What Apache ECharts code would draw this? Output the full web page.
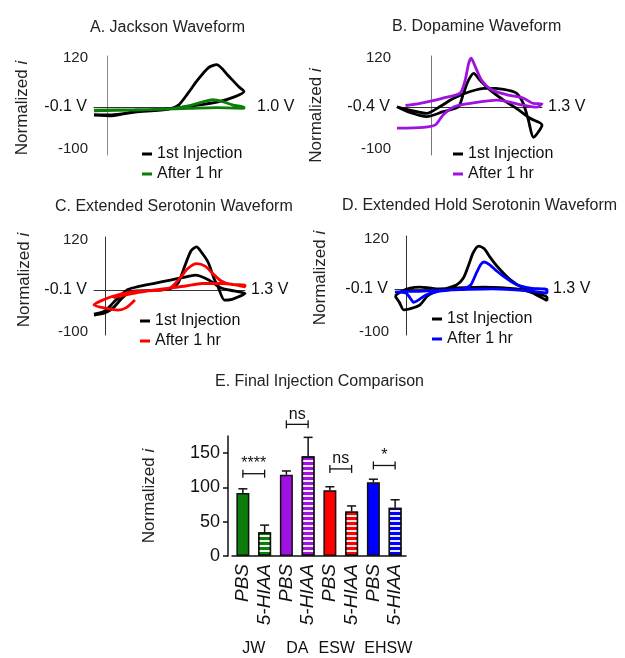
<!DOCTYPE html>
<html>
<head>
<meta charset="utf-8">
<script src="https://cdn.jsdelivr.net/npm/echarts@6/dist/echarts.min.js"></script>
<style>
html, body { margin: 0; padding: 0; background: #fff; }
#main { width: 625px; height: 658px; }
</style>
</head>
<body>
<div id="main"></div>
<script>
// cyclic voltammograms: [potential (V), normalized current]
var jwFirst = [[-0.1,-18],[0.03,-20],[0.2,-10],[0.45,-3],[0.62,4],[0.81,14],[0.93,26],[1.0,39],[0.96,51],[0.88,79],[0.8,104],[0.74,97],[0.66,67],[0.59,35],[0.52,6],[0.45,-4],[0.2,-11],[0.03,-18],[-0.1,-17]];
var jwAfter = [[-0.1,-6],[0.2,-5],[0.45,-3],[0.6,5],[0.7,14],[0.77,19],[0.85,14],[0.92,6],[1.0,1],[1.0,-2],[0.8,0],[0.6,-2],[0.4,-4],[0.2,-6],[-0.1,-8]];
var daFirst = [[-0.4,2],[-0.25,-12],[-0.05,-22],[0.14,-10],[0.32,2],[0.38,35],[0.44,67],[0.5,83],[0.57,67],[0.69,43],[0.85,18],[1.0,-2],[1.16,-26],[1.3,-42],[1.2,-72],[1.14,-30],[1.08,10],[1.0,35],[0.85,44],[0.66,47],[0.46,39],[0.27,23],[0.1,2],[-0.05,-14],[-0.25,-6],[-0.4,2]];
var daAfter = [[-0.3,5],[-0.13,10],[0.14,23],[0.34,35],[0.4,67],[0.44,107],[0.47,120],[0.51,103],[0.59,67],[0.71,43],[0.89,31],[1.08,23],[1.2,10],[1.3,9],[1.24,1],[1.08,6],[0.77,18],[0.46,10],[0.27,2],[0.14,-18],[0.05,-42],[-0.09,-48],[-0.4,-50]];
var eswFirst = [[-0.1,-60],[0.0,-55],[0.08,-42],[0.15,-22],[0.22,-6],[0.3,-2],[0.45,-1],[0.55,1],[0.62,5],[0.68,17],[0.74,57],[0.8,95],[0.85,104],[0.9,90],[0.96,66],[1.01,30],[1.05,8],[1.11,-24],[1.18,-22],[1.24,-16],[1.3,-8],[1.2,-2],[1.08,5],[0.96,25],[0.84,36],[0.72,30],[0.62,25],[0.45,16],[0.3,8],[0.22,2],[0.15,-12],[0.08,-30],[0.0,-50],[-0.1,-58]];
var eswAfter = [[0.28,-24],[0.2,-42],[0.12,-48],[0.02,-44],[-0.1,-36],[0.06,-16],[0.25,-4],[0.52,0],[0.62,8],[0.7,30],[0.77,52],[0.85,64],[0.93,58],[1.0,40],[1.08,22],[1.17,14],[1.3,12],[1.3,8],[1.1,16],[0.9,16],[0.75,10],[0.6,5],[0.45,0],[0.3,-6],[0.15,-14],[0.08,-18]];
var ehswFirst = [[-0.1,-15],[-0.06,-30],[-0.02,-48],[0.03,-46],[0.13,-36],[0.2,-15],[0.3,-2],[0.4,5],[0.47,12],[0.53,28],[0.58,60],[0.62,88],[0.67,104],[0.72,98],[0.78,76],[0.84,56],[0.96,24],[1.08,4],[1.2,-8],[1.3,-18],[1.3,-26],[1.15,-6],[1.02,2],[0.72,6],[0.45,4],[0.3,2],[0.22,4],[0.13,6],[0.04,4],[-0.04,-4],[-0.1,-15]];
var ehswAfter = [[-0.1,-6],[0.0,-8],[0.04,-20],[0.07,-30],[0.12,-24],[0.19,-12],[0.3,-4],[0.45,0],[0.55,4],[0.6,12],[0.65,40],[0.69,60],[0.72,66],[0.77,60],[0.84,44],[0.9,32],[1.02,12],[1.15,4],[1.3,0],[1.3,-8],[1.1,-2],[0.8,2],[0.5,0],[0.25,-2],[0.1,-4],[0.0,-4],[-0.1,-6]];

var cvTitles = ['A. Jackson Waveform', 'B. Dopamine Waveform', 'C. Extended Serotonin Waveform', 'D. Extended Hold Serotonin Waveform'];
var cvXMin = [-0.1, -0.4, -0.1, -0.1];
var cvXMax = [1.0, 1.3, 1.3, 1.3];
var cvLeftLabel = ['-0.1 V', '-0.4 V', '-0.1 V', '-0.1 V'];
var cvRightLabel = ['1.0 V', '1.3 V', '1.3 V', '1.3 V'];
var cvYTicks = [-100, 120];
var cvFirst = [jwFirst, daFirst, eswFirst, ehswFirst];
var cvAfter = [jwAfter, daAfter, eswAfter, ehswAfter];
var legendNames = ['1st Injection', 'After 1 hr'];

// final injection comparison
var barCategories = ['PBS', '5-HIAA', 'PBS', '5-HIAA', 'PBS', '5-HIAA', 'PBS', '5-HIAA'];
var groupNames = ['JW', 'DA', 'ESW', 'EHSW'];
var barMeans = [92, 34.5, 118.5, 145.5, 96, 65, 107.5, 70.5];
var barSem = [6, 10.5, 5.5, 27.5, 5, 8, 4.5, 11.5];
var sigFrom = [0, 2, 4, 6];
var sigTo = [1, 3, 5, 7];
var sigLevel = [120, 192, 127, 132];
var sigText = ['****', 'ns', 'ns', '*'];

var groupColors = ['#0b7d0b', '#a012e0', '#ff0000', '#0000ff'];
var font = 'Arial, "Liberation Sans", Helvetica, sans-serif';

var cvGrids = [
    {left: 94, top: 56, width: 150, height: 99},
    {left: 397, top: 56, width: 145, height: 99},
    {left: 94, top: 237, width: 151, height: 98},
    {left: 395, top: 236, width: 152, height: 99}
];
var cvYRange = [[-115, 125], [-115, 125], [-108, 128], [-108, 128]];
var cvAxisColor = ['#888', '#777', '#333', '#333'];
var cvNameGap = [63, 72, 61, 66];
var cvNamePad = [[0, 5, 0, 0], [0, 20, 0, 0], [0, 0, 0, 12], [0, 0, 0, 15]];
var titlePos = [[90, 20], [392, 19], [55, 199], [342, 198], [215, 374]];
var legendPos = [[142, 146], [453, 146], [140, 313], [432, 311]];

var myChart = echarts.init(document.getElementById('main'));

var grids = [], xAxes = [], yAxes = [], series = [], titles = [], legends = [];
var panelKeys = ['A', 'B', 'C', 'D'];

cvGrids.forEach(function (g, i) {
    grids.push({left: g.left, top: g.top, width: g.width, height: g.height, outerBoundsMode: 'none'});
    xAxes.push({
        gridIndex: i, type: 'value', min: cvXMin[i], max: cvXMax[i],
        axisLine: {onZero: true, lineStyle: {color: '#333', width: 1}},
        axisTick: {show: false}, axisLabel: {show: false}, splitLine: {show: false}
    });
    yAxes.push({
        gridIndex: i, type: 'value', min: cvYRange[i][0], max: cvYRange[i][1],
        axisLine: {show: true, onZero: true, lineStyle: {color: cvAxisColor[i], width: 1}},
        axisTick: {show: false}, splitLine: {show: false},
        axisLabel: {customValues: cvYTicks, fontSize: 15, color: '#222', margin: 6},
        name: '{n|Normalized }{i|i}', nameLocation: 'middle', nameGap: cvNameGap[i],
        nameTextStyle: {
            color: '#222', padding: cvNamePad[i],
            rich: {n: {fontSize: 17, color: '#222'}, i: {fontSize: 17, color: '#222', fontStyle: 'italic'}}
        }
    });
    series.push({
        name: panelKeys[i] + '1', type: 'line', xAxisIndex: i, yAxisIndex: i,
        data: cvFirst[i], showSymbol: false, smooth: 0.25, color: '#000',
        lineStyle: {width: 2.8, color: '#000'}
    });
    series.push({
        name: panelKeys[i] + '2', type: 'line', xAxisIndex: i, yAxisIndex: i,
        data: cvAfter[i], showSymbol: false, smooth: 0.25, color: groupColors[i],
        lineStyle: {width: 2.8, color: groupColors[i]}
    });
    titles.push({text: cvTitles[i], left: titlePos[i][0], top: titlePos[i][1]});
    legends.push({
        orient: 'vertical', left: legendPos[i][0], top: legendPos[i][1], padding: 0,
        data: [panelKeys[i] + '1', panelKeys[i] + '2'],
        icon: 'rect', itemWidth: 10, itemHeight: 3, itemGap: 4,
        textStyle: {fontSize: 16, color: '#111'},
        formatter: function (name) { return legendNames[+name.slice(1) - 1]; }
    });
});

// bar panel
titles.push({text: 'E. Final Injection Comparison', left: titlePos[4][0], top: titlePos[4][1]});
grids.push({left: 232, top: 436, width: 174, height: 120, outerBoundsMode: 'none'});
xAxes.push({
    gridIndex: 4, type: 'category', data: barCategories,
    axisLine: {lineStyle: {color: '#111', width: 1.5}},
    axisTick: {alignWithLabel: true, length: 4, lineStyle: {color: '#111', width: 1.5}},
    axisLabel: {rotate: 90, interval: 0, fontSize: 19, fontStyle: 'italic', color: '#111', margin: 8}
});
xAxes.push({
    gridIndex: 4, type: 'category', data: groupNames, position: 'bottom', offset: 77,
    axisLine: {show: false}, axisTick: {show: false},
    axisLabel: {
        interval: 0, fontSize: 16, color: '#111', margin: 8,
        formatter: function (v) { return v === 'ESW' ? '{l|' + v + '}' : v === 'EHSW' ? '{r|' + v + '}' : v; },
        rich: {l: {fontSize: 16, color: '#111', padding: [0, 8, 0, 0]}, r: {fontSize: 16, color: '#111', padding: [0, 0, 0, 8]}}
    }
});
yAxes.push({
    gridIndex: 4, type: 'value', min: 0, max: 175, offset: 4,
    axisLine: {show: true, lineStyle: {color: '#111', width: 1.5}},
    axisTick: {show: true, length: 5, customValues: [0, 50, 100, 150], lineStyle: {color: '#111', width: 1.5}},
    axisLabel: {customValues: [0, 50, 100, 150], fontSize: 18, color: '#111', margin: 8},
    splitLine: {show: false},
    name: '{n|Normalized }{i|i}', nameLocation: 'middle', nameGap: 70,
    nameTextStyle: {rich: {n: {fontSize: 17, color: '#222'}, i: {fontSize: 17, color: '#222', fontStyle: 'italic'}}}
});

var stripe = {symbol: 'rect', symbolSize: 1, dashArrayX: [1, 0], dashArrayY: [2, 3], rotation: 0, color: 'rgba(255,255,255,0.92)'};
series.push({
    type: 'bar', xAxisIndex: 4, yAxisIndex: 4, barWidth: 13,
    data: barMeans.map(function (v, i) {
        var st = {color: groupColors[Math.floor(i / 2)], borderColor: '#111', borderWidth: 1.5};
        if (i % 2 === 1) st.decal = stripe;
        return {value: v, itemStyle: st};
    })
});
series.push({
    type: 'custom', xAxisIndex: 4, yAxisIndex: 4, z: 5,
    data: barMeans.map(function (v, i) { return [i, v, barSem[i]]; }),
    renderItem: function (params, api) {
        var p0 = api.coord([api.value(0), api.value(1)]);
        var p1 = api.coord([api.value(0), api.value(1) + api.value(2)]);
        var st = {stroke: '#111', lineWidth: 1.5};
        return {type: 'group', children: [
            {type: 'line', shape: {x1: p0[0], y1: p0[1], x2: p1[0], y2: p1[1]}, style: st},
            {type: 'line', shape: {x1: p1[0] - 4.5, y1: p1[1], x2: p1[0] + 4.5, y2: p1[1]}, style: st}
        ]};
    }
});
series.push({
    type: 'custom', xAxisIndex: 4, yAxisIndex: 4, z: 5, clip: false,
    data: sigFrom.map(function (f, i) { return [f, sigTo[i], sigLevel[i], i]; }),
    renderItem: function (params, api) {
        var a = api.coord([api.value(0), api.value(2)]);
        var b = api.coord([api.value(1), api.value(2)]);
        var st = {stroke: '#111', lineWidth: 1.3};
        return {type: 'group', children: [
            {type: 'line', shape: {x1: a[0], y1: a[1], x2: b[0], y2: b[1]}, style: st},
            {type: 'line', shape: {x1: a[0], y1: a[1] - 4, x2: a[0], y2: a[1] + 4}, style: st},
            {type: 'line', shape: {x1: b[0], y1: b[1] - 4, x2: b[0], y2: b[1] + 4}, style: st},
            {type: 'text', x: (a[0] + b[0]) / 2, y: a[1] - 2,
             style: {text: sigText[api.value(3)], align: 'center', verticalAlign: 'bottom', fontSize: 16, fontFamily: font, fill: '#111'}}
        ]};
    }
});

myChart.setOption({
    animation: false,
    textStyle: {fontFamily: font},
    title: titles.map(function (t) {
        t.padding = 0;
        t.textStyle = {fontSize: 16, fontWeight: 'normal', color: '#222'};
        return t;
    }),
    legend: legends,
    grid: grids,
    xAxis: xAxes,
    yAxis: yAxes,
    series: series
});

// potential range labels at the ends of each zero line
var labels = [];
for (var i = 0; i < 4; i++) {
    var pL = myChart.convertToPixel({gridIndex: i}, [cvXMin[i], 0]);
    var pR = myChart.convertToPixel({gridIndex: i}, [cvXMax[i], 0]);
    labels.push({type: 'text', x: pL[0] - 7, y: pL[1] - 1,
        style: {text: cvLeftLabel[i], align: 'right', verticalAlign: 'middle', fontSize: 16, fontFamily: font, fill: '#111'}});
    labels.push({type: 'text', x: pR[0] + (i === 0 ? 13 : 6), y: pR[1] - 1,
        style: {text: cvRightLabel[i], align: 'left', verticalAlign: 'middle', fontSize: 16, fontFamily: font, fill: '#111'}});
}
myChart.setOption({graphic: labels});
</script>
</body>
</html>
